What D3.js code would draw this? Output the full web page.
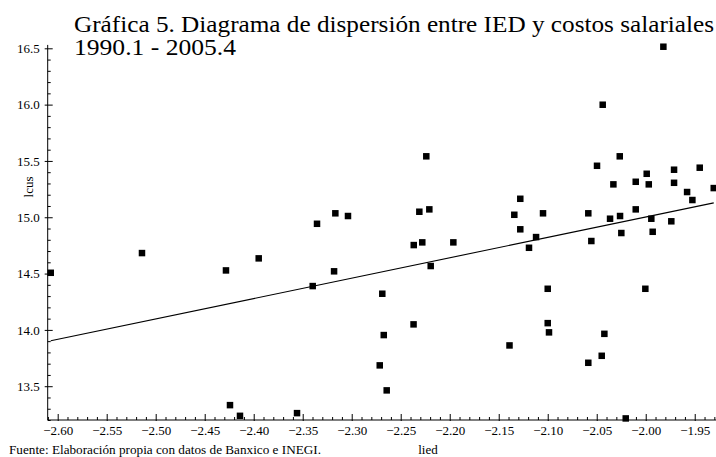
<!DOCTYPE html>
<html>
<head>
<meta charset="utf-8">
<script src="https://cdn.jsdelivr.net/npm/d3@7"></script>
<style>
  body { margin: 0; background: #fff; }
</style>
</head>
<body>
<script>
// IED (log) vs costos salariales (log), 1990.1 - 2005.4
const lied = [
  -2.6071, -2.514, -2.4283, -2.3949, -2.4242, -2.414,
  -2.2239, -2.3167, -2.3038, -2.3354, -2.231, -2.2208, -2.2367, -2.228,
  -2.1963, -2.2194, -2.318, -2.3398, -2.2688, -2.2369, -2.2673, -2.2714,
  -2.2643, -2.3558, -2.139,
  -1.982, -2.0439, -2.0265, -2.0497, -1.999, -1.9711, -1.9449, -2.0102,
  -1.9969, -2.033, -1.9711, -1.9578, -1.9524, -1.9306, -2.128, -2.1341,
  -2.128, -2.1048, -2.1119, -2.1191, -2.0586, -2.0555, -2.0364, -2.0262,
  -2.0249, -2.0102, -1.9943, -1.9929, -1.9739, -2.1, -2.0004, -2.1,
  -2.0987, -2.0422, -2.0449, -2.0586, -2.0204
]
const lcus = [
  14.507, 14.682, 14.528, 14.635, 13.332, 13.237,
  15.541, 15.035, 15.011, 14.942, 15.049, 15.07, 14.753, 14.777,
  14.777, 14.567, 14.52, 14.389, 14.321, 14.049, 13.954, 13.685,
  13.463, 13.261, 13.862,
  16.514, 15.999, 15.541, 15.457, 15.386, 15.422, 15.44, 15.315,
  15.292, 15.292, 15.306, 15.224, 15.153, 15.259, 15.164, 15.022,
  14.893, 15.035, 14.824, 14.729, 15.035, 14.789, 14.987, 15.011,
  14.86, 15.07, 14.987, 14.871, 14.964, 14.365, 14.365, 14.06,
  13.978, 13.965, 13.77, 13.708, 13.214
]
// fitted line, read at both ends of the data
const fitX = [-2.6071, -1.9306]
const fitY = [13.903, 15.128]

const xTicks = [-2.60, -2.55, -2.50, -2.45, -2.40, -2.35, -2.30, -2.25, -2.20, -2.15, -2.10, -2.05, -2.00, -1.95]
const yTicks = [13.5, 14.0, 14.5, 15.0, 15.5, 16.0, 16.5]

const WIDTH = 716
const HEIGHT = 457
const FONT = '"Liberation Serif", "Times New Roman", Times, serif'

const x = d3.scaleLinear().domain([-2.6102, -1.9283]).range([47.7, 716])
const y = d3.scaleLinear().domain([13.2, 16.5]).range([420, 48.3])

const svg = d3.select(document.body).append('svg')
  .attr('width', WIDTH)
  .attr('height', HEIGHT)

// title
svg.append('text')
  .attr('x', 74).attr('y', 31.5)
  .attr('textLength', 640).attr('lengthAdjust', 'spacingAndGlyphs')
  .style('font-family', FONT).style('font-size', '24px')
  .text('Gráfica 5. Diagrama de dispersión entre IED y costos salariales')
svg.append('text')
  .attr('x', 74).attr('y', 55)
  .attr('textLength', 162).attr('lengthAdjust', 'spacingAndGlyphs')
  .style('font-family', FONT).style('font-size', '24px')
  .text('1990.1 - 2005.4')

// minor ticks
const xMinor = d3.range(-261, -192).map(i => i / 100).filter(v => Math.round(v * 100) % 5 !== 0)
const yMinor = d3.range(132, 166).map(i => i / 10).filter(v => Math.round(v * 10) % 5 !== 0)

const xAxisG = svg.append('g').attr('transform', 'translate(0,420)')
xAxisG.call(d3.axisBottom(x).tickValues(xMinor).tickSizeInner(-3).tickSizeOuter(0).tickFormat(''))
xAxisG.call(g => g.select('.domain').remove())
const xMajorG = svg.append('g').attr('transform', 'translate(0,420)')
  .call(d3.axisBottom(x).tickValues(xTicks).tickSizeInner(-6).tickSizeOuter(0)
    .tickPadding(6).tickFormat(d3.format('.2f')))
xMajorG.call(g => g.select('.domain').remove())
xMajorG.selectAll('.tick line').attr('y1', 1)
xMajorG.attr('font-family', null).attr('font-size', null)
xMajorG.selectAll('text').style('font-family', FONT).style('font-size', '13px')

const yAxisG = svg.append('g').attr('transform', 'translate(47.7,0)')
yAxisG.call(d3.axisLeft(y).tickValues(yMinor).tickSizeInner(-3).tickSizeOuter(0).tickFormat(''))
yAxisG.call(g => g.select('.domain').remove())
const yMajorG = svg.append('g').attr('transform', 'translate(47.7,0)')
  .call(d3.axisLeft(y).tickValues(yTicks).tickSizeInner(-5).tickSizeOuter(0)
    .tickPadding(8).tickFormat(d3.format('.1f')))
yMajorG.call(g => g.select('.domain').remove())
yMajorG.selectAll('.tick line').attr('x1', -3)
yMajorG.attr('font-family', null).attr('font-size', null)
yMajorG.selectAll('text').style('font-family', FONT).style('font-size', '13px')

// axis lines
svg.append('line')
  .attr('x1', x.range()[0]).attr('x2', x.range()[1])
  .attr('y1', 420).attr('y2', 420)
  .attr('stroke', 'black').attr('stroke-width', 1)
svg.append('line')
  .attr('x1', 47.7).attr('x2', 47.7)
  .attr('y1', 420).attr('y2', y(16.53))
  .attr('stroke', 'black').attr('stroke-width', 1)

// fitted line
const fit = fitX.map((v, i) => [v, fitY[i]])
svg.append('path')
  .attr('d', d3.line().x(d => x(d[0])).y(d => y(d[1]))(fit))
  .attr('fill', 'none')
  .attr('stroke', 'black')
  .attr('stroke-width', 1.1)

// points
const S = 6.5
svg.append('g').selectAll('rect')
  .data(lied.map((v, i) => [v, lcus[i]]))
  .enter()
  .append('rect')
  .attr('x', d => x(d[0]) - S / 2)
  .attr('y', d => y(d[1]) - S / 2)
  .attr('width', S)
  .attr('height', S)
  .attr('fill', 'black')

// axis titles and source
svg.append('text')
  .attr('transform', 'translate(33,187) rotate(-90)')
  .attr('text-anchor', 'middle')
  .style('font-family', FONT).style('font-size', '13px')
  .text('lcus')
svg.append('text')
  .attr('x', 428).attr('y', 454)
  .attr('text-anchor', 'middle')
  .style('font-family', FONT).style('font-size', '13px')
  .text('lied')
svg.append('text')
  .attr('x', 9).attr('y', 454)
  .attr('textLength', 312).attr('lengthAdjust', 'spacingAndGlyphs')
  .style('font-family', FONT).style('font-size', '13px')
  .text('Fuente: Elaboración propia con datos de Banxico e INEGI.')
</script>
</body>
</html>
